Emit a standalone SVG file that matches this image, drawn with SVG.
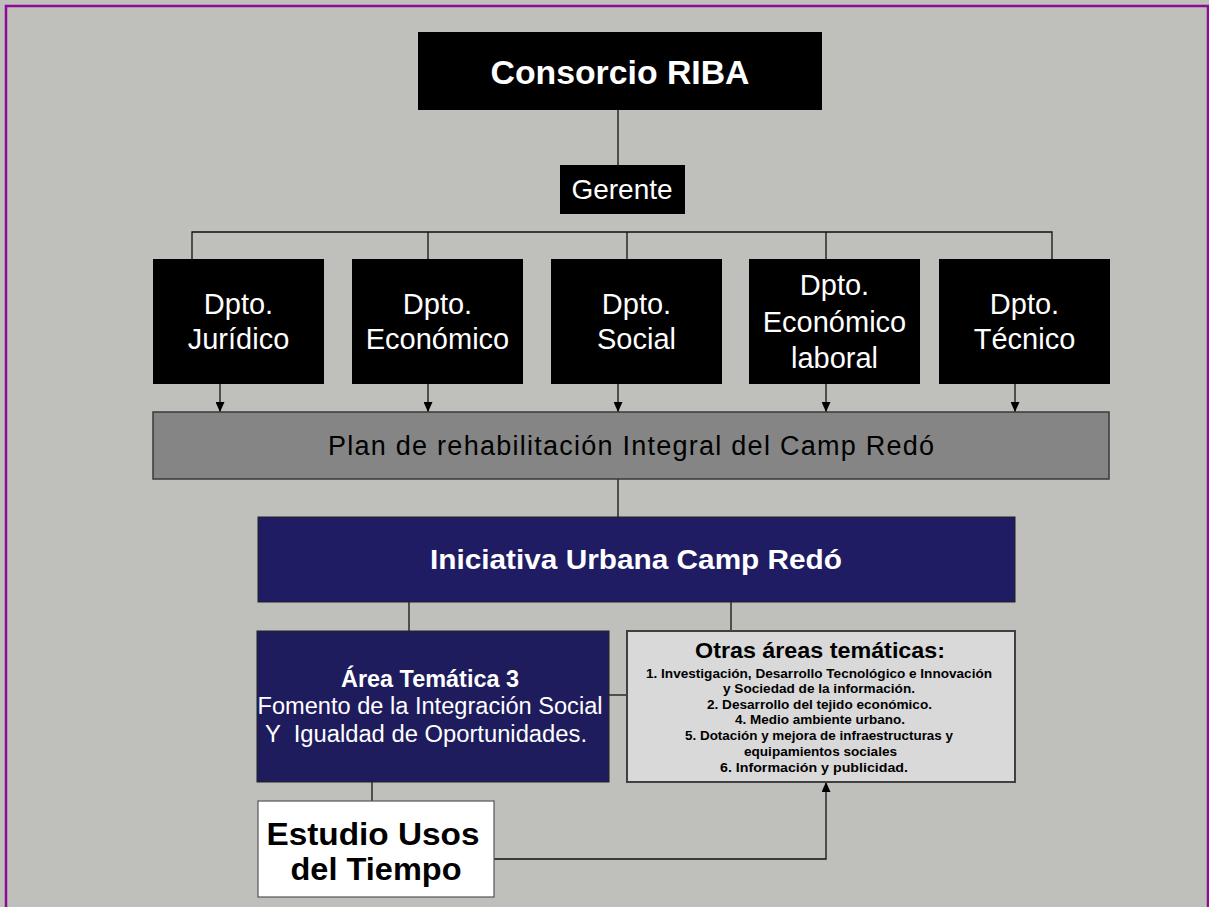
<svg xmlns="http://www.w3.org/2000/svg" width="1209" height="907" viewBox="0 0 1209 907">
<defs>
<marker id="ah" markerWidth="10" markerHeight="9" refX="10" refY="4.5" orient="auto" markerUnits="userSpaceOnUse" viewBox="0 0 10 9">
<path d="M0,0 L10,4.5 L0,9 Z" fill="#000"/>
</marker>
<style>
.bg{fill:#BFC0BB}
.blk{fill:#000}
.w{fill:#fff;font-family:"Liberation Sans",Arial,sans-serif;text-anchor:middle}
.k{fill:#000;font-family:"Liberation Sans",Arial,sans-serif;text-anchor:middle}
.b{font-weight:bold}
.ln{stroke:#111;stroke-width:1.3;fill:none}
.dp{font-size:29px}
</style>
</defs>
<rect class="bg" x="0" y="0" width="1209" height="907"/>
<rect x="6" y="6" width="1202" height="920" fill="none" stroke="#8E0A92" stroke-width="2.5"/>

<g id="connectors">
<line class="ln" x1="618" y1="110" x2="618" y2="165"/>
<polyline class="ln" points="192,260 192,232 1052,232 1052,260"/>
<line class="ln" x1="428" y1="232" x2="428" y2="260"/>
<line class="ln" x1="627" y1="232" x2="627" y2="260"/>
<line class="ln" x1="826" y1="232" x2="826" y2="260"/>
<line class="ln" x1="220" y1="384" x2="220" y2="412" marker-end="url(#ah)"/>
<line class="ln" x1="428" y1="384" x2="428" y2="412" marker-end="url(#ah)"/>
<line class="ln" x1="618" y1="384" x2="618" y2="412" marker-end="url(#ah)"/>
<line class="ln" x1="826" y1="384" x2="826" y2="412" marker-end="url(#ah)"/>
<line class="ln" x1="1015" y1="384" x2="1015" y2="412" marker-end="url(#ah)"/>
<line class="ln" x1="618" y1="479" x2="618" y2="517"/>
<line class="ln" x1="409" y1="602" x2="409" y2="631"/>
<line class="ln" x1="731" y1="602" x2="731" y2="631"/>
<line class="ln" x1="609" y1="695" x2="627" y2="695"/>
<line class="ln" x1="372" y1="782" x2="372" y2="801"/>
<polyline class="ln" points="494,859 826,859 826,782" marker-end="url(#ah)"/>
</g>

<g id="consorcio">
<rect class="blk" x="418" y="32" width="404" height="78"/>
<text class="w b" x="620" y="84" font-size="33" textLength="259" lengthAdjust="spacingAndGlyphs">Consorcio RIBA</text>
</g>

<g id="gerente">
<rect class="blk" x="560" y="165" width="125" height="49"/>
<text class="w" x="622" y="199" font-size="28">Gerente</text>
</g>

<g id="dpto-juridico">
<rect class="blk" x="153" y="259" width="171" height="125"/>
<text class="w dp" x="238.5" y="314">Dpto.</text>
<text class="w dp" x="238.5" y="349">Jurídico</text>
</g>
<g id="dpto-economico">
<rect class="blk" x="352" y="259" width="171" height="125"/>
<text class="w dp" x="437.5" y="314">Dpto.</text>
<text class="w dp" x="437.5" y="349">Económico</text>
</g>
<g id="dpto-social">
<rect class="blk" x="551" y="259" width="171" height="125"/>
<text class="w dp" x="636.5" y="314">Dpto.</text>
<text class="w dp" x="636.5" y="349">Social</text>
</g>
<g id="dpto-economico-laboral">
<rect class="blk" x="749" y="259" width="171" height="125"/>
<text class="w dp" x="834.5" y="295">Dpto.</text>
<text class="w dp" x="834.5" y="332">Económico</text>
<text class="w dp" x="834.5" y="368">laboral</text>
</g>
<g id="dpto-tecnico">
<rect class="blk" x="939" y="259" width="171" height="125"/>
<text class="w dp" x="1024.5" y="314">Dpto.</text>
<text class="w dp" x="1024.5" y="349">Técnico</text>
</g>

<g id="plan">
<rect x="153" y="412" width="956" height="67" fill="#858585" stroke="#3A3A3A" stroke-width="1.5"/>
<text class="k" x="631" y="455" font-size="27" fill="#1A1A1A" textLength="606" lengthAdjust="spacing">Plan de rehabilitación Integral del Camp Redó</text>
</g>

<g id="iniciativa">
<rect x="258" y="517" width="757" height="85" fill="#1F1C63" stroke="#222" stroke-width="1"/>
<text class="w b" x="636" y="569" font-size="27.5" textLength="412" lengthAdjust="spacingAndGlyphs">Iniciativa Urbana Camp Redó</text>
</g>

<g id="area3">
<rect x="257" y="631" width="352" height="151" fill="#1F1C5E" stroke="#222" stroke-width="1"/>
<text class="w b" x="430" y="687" font-size="23" textLength="178" lengthAdjust="spacingAndGlyphs">Área Temática 3</text>
<text class="w" x="430" y="714" font-size="23.5" textLength="345" lengthAdjust="spacingAndGlyphs">Fomento de la Integración Social</text>
<text class="w" x="426" y="742" font-size="23.5" textLength="322" lengthAdjust="spacingAndGlyphs" xml:space="preserve">Y  Igualdad de Oportunidades.</text>
</g>

<g id="otras">
<rect x="627" y="631" width="388" height="151" fill="#D9D9D9" stroke="#404040" stroke-width="2"/>
<text class="k b" x="820" y="658" font-size="22" textLength="250" lengthAdjust="spacingAndGlyphs">Otras áreas temáticas:</text>
<g class="k b" font-size="12.5">
<text x="819" y="678" textLength="346" lengthAdjust="spacingAndGlyphs">1. Investigación, Desarrollo Tecnológico e Innovación</text>
<text x="819" y="693" textLength="192" lengthAdjust="spacingAndGlyphs">y Sociedad de la información.</text>
<text x="819.5" y="709" textLength="225" lengthAdjust="spacingAndGlyphs">2. Desarrollo del tejido económico.</text>
<text x="820" y="724" textLength="170" lengthAdjust="spacingAndGlyphs">4. Medio ambiente urbano.</text>
<text x="819" y="740" textLength="268" lengthAdjust="spacingAndGlyphs">5. Dotación y mejora de infraestructuras y</text>
<text x="820.5" y="756" textLength="153" lengthAdjust="spacingAndGlyphs">equipamientos sociales</text>
<text x="814" y="772" textLength="188" lengthAdjust="spacingAndGlyphs">6. Información y publicidad.</text>
</g>
</g>

<g id="estudio">
<rect x="258" y="801" width="236" height="96" fill="#fff" stroke="#555" stroke-width="1.2"/>
<text class="k b" x="373" y="845" font-size="32" textLength="213" lengthAdjust="spacingAndGlyphs">Estudio Usos</text>
<text class="k b" x="376" y="880" font-size="32" textLength="171" lengthAdjust="spacingAndGlyphs">del Tiempo</text>
</g>
</svg>
